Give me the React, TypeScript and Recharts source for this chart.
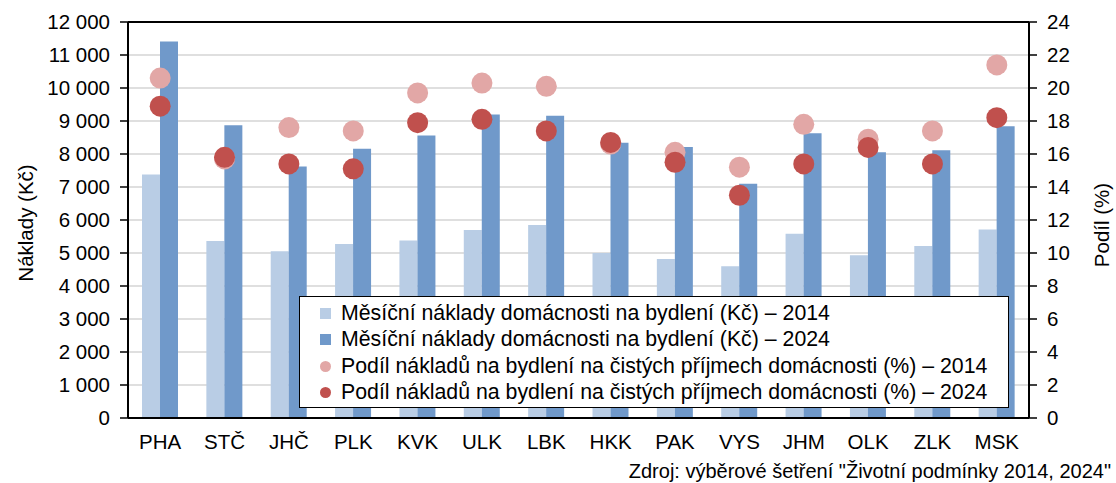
import {
  ComposedChart,
  Bar,
  Scatter,
  XAxis,
  YAxis,
  CartesianGrid,
  ReferenceLine,
  Legend,
} from "recharts"

// regions and values
const regions = ["PHA", "STČ", "JHČ", "PLK", "KVK", "ULK", "LBK", "HKK", "PAK", "VYS", "JHM", "OLK", "ZLK", "MSK"]
const costs2014 = [7380, 5360, 5050, 5270, 5380, 5700, 5850, 5000, 4820, 4600, 5580, 4930, 5210, 5710]
const costs2024 = [11410, 8870, 7620, 8160, 8560, 9200, 9160, 8340, 8210, 7100, 8630, 8050, 8110, 8840]
const share2014 = [20.6, 15.7, 17.6, 17.4, 19.7, 20.3, 20.1, 16.6, 16.1, 15.2, 17.8, 16.9, 17.4, 21.4]
const share2024 = [18.9, 15.8, 15.4, 15.1, 17.9, 18.1, 17.4, 16.7, 15.5, 13.5, 15.4, 16.4, 15.4, 18.2]

const leftTicks = [0, 1000, 2000, 3000, 4000, 5000, 6000, 7000, 8000, 9000, 10000, 11000, 12000]
const rightTicks = [0, 2, 4, 6, 8, 10, 12, 14, 16, 18, 20, 22, 24]

const seriesNames = [
  "Měsíční náklady domácnosti na bydlení (Kč) – 2014",
  "Měsíční náklady domácnosti na bydlení (Kč) – 2024",
  "Podíl nákladů na bydlení na čistých příjmech domácnosti (%) – 2014",
  "Podíl nákladů na bydlení na čistých příjmech domácnosti (%) – 2024",
]
const seriesColors = ["#b9cde5", "#7099ca", "#e2a7a6", "#c0504d"]
const seriesMarkers = ["square", "square", "circle", "circle"]

const data = regions.map((r, i) => ({
  region: r,
  c14: costs2014[i],
  c24: costs2024[i],
  s14: share2014[i],
  s24: share2024[i],
}))

const FONT = "'Liberation Sans', Arial, sans-serif"
const tickStyle = { fill: "#000", fontSize: 20.5, fontFamily: FONT }

function formatThousands(v: number): string {
  return v.toLocaleString("en-US").replace(/,/g, " ")
}

function dot(color: string) {
  return (props: { cx?: number; cy?: number }) => (
    <circle cx={props.cx} cy={props.cy} r={10.5} fill={color} />
  )
}

function AxisTitle({ x, y, text }: { x: number; y: number; text: string }) {
  return (
    <text
      x={x}
      y={y}
      transform={`rotate(-90 ${x} ${y})`}
      textAnchor="middle"
      dominantBaseline="central"
      fill="#000"
      fontSize={20.5}
      fontFamily={FONT}
    >
      {text}
    </text>
  )
}

function LegendBox() {
  return (
    <div
      style={{
        background: "#fff",
        border: "1.5px solid #000",
        padding: "3px 0",
        fontFamily: FONT,
        fontSize: 21.3,
        color: "#000",
        boxSizing: "border-box",
        width: 710,
        height: 112,
      }}
    >
      {seriesNames.map((name, i) => (
        <div key={name} style={{ display: "flex", alignItems: "center", height: 26.5 }}>
          <span
            style={{
              display: "inline-block",
              width: 11,
              height: 11,
              marginLeft: 20,
              marginRight: 10,
              background: seriesColors[i],
              borderRadius: seriesMarkers[i] === "circle" ? "50%" : 0,
            }}
          />
          <span style={{ whiteSpace: "nowrap" }}>{name}</span>
        </div>
      ))}
    </div>
  )
}

export default function App() {
  return (
    <div style={{ position: "absolute", left: 0, top: 0, width: 1116, height: 483, background: "#fff" }}>
      <ComposedChart
        width={1116}
        height={483}
        data={data}
        margin={{ top: 22, right: 0, left: 0, bottom: 25 }}
        barGap={0}
      >
        <CartesianGrid vertical={false} stroke="#d4d4d4" strokeWidth={1.5} yAxisId="left" />
        <XAxis
          dataKey="region"
          tick={tickStyle}
          tickLine={false}
          tickSize={6}
          tickMargin={10}
          height={40}
          axisLine={{ stroke: "#000", strokeWidth: 2 }}
          interval={0}
        />
        <YAxis
          yAxisId="left"
          domain={[0, 12000]}
          ticks={leftTicks}
          tickFormatter={formatThousands}
          tick={tickStyle}
          width={128}
          tickSize={8}
          tickMargin={10}
          axisLine={{ stroke: "#000", strokeWidth: 2 }}
          tickLine={{ stroke: "#000", strokeWidth: 1.5 }}
          interval={0}
          label={() => <AxisTitle x={25} y={223} text="Náklady (Kč)" />}
        />
        <YAxis
          yAxisId="right"
          orientation="right"
          domain={[0, 24]}
          ticks={rightTicks}
          tick={tickStyle}
          width={87}
          tickSize={8}
          tickMargin={10}
          axisLine={{ stroke: "#000", strokeWidth: 2 }}
          tickLine={{ stroke: "#000", strokeWidth: 1.5 }}
          interval={0}
          label={() => <AxisTitle x={1101} y={225} text="Podíl (%)" />}
        />
        <ReferenceLine yAxisId="left" y={12000} stroke="#000" strokeWidth={2} />
        <Bar yAxisId="left" dataKey="c14" name={seriesNames[0]} fill={seriesColors[0]} barSize={18} isAnimationActive={false} />
        <Bar yAxisId="left" dataKey="c24" name={seriesNames[1]} fill={seriesColors[1]} barSize={18} isAnimationActive={false} />
        <Scatter yAxisId="right" dataKey="s14" name={seriesNames[2]} fill={seriesColors[2]} shape={dot(seriesColors[2])} isAnimationActive={false} />
        <Scatter yAxisId="right" dataKey="s24" name={seriesNames[3]} fill={seriesColors[3]} shape={dot(seriesColors[3])} isAnimationActive={false} />
        <Legend
          layout="vertical"
          align="center"
          verticalAlign="middle"
          content={() => <LegendBox />}
          wrapperStyle={{ left: 299, top: 296, width: 710, height: 112 }}
        />
      </ComposedChart>
      <div
        style={{
          position: "absolute",
          right: 5,
          top: 460,
          fontFamily: FONT,
          fontSize: 20,
          color: "#000",
          whiteSpace: "nowrap",
        }}
      >
        Zdroj: výběrové šetření "Životní podmínky 2014, 2024"
      </div>
    </div>
  )
}
